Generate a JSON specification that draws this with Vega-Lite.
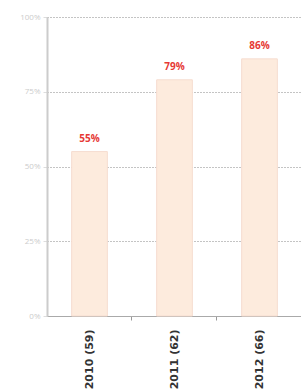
{
  "$schema": "https://vega.github.io/schema/vega-lite/v6.json",
  "autosize": {"type": "none"},
  "width": 255,
  "height": 299,
  "padding": {"left": 47, "top": 17, "right": 0, "bottom": 74},
  "background": "white",
  "config": {"view": {"stroke": null}, "font": "Open Sans"},
  "data": {"values": [
    {"year": "2010 (59)", "pct": 0.55},
    {"year": "2011 (62)", "pct": 0.79},
    {"year": "2012 (66)", "pct": 0.86}
  ]},
  "encoding": {
    "x": {"field": "year", "type": "nominal", "sort": null,
      "scale": {"paddingInner": 0.58, "paddingOuter": 0.29},
      "axis": {"title": null, "labelAngle": -90, "labelAlign": "right", "labelBaseline": "middle",
        "labelFont": "DejaVu Sans", "labelFontWeight": "bold", "labelFontSize": 11, "labelColor": "#333333",
        "labelPadding": 9, "tickSize": 4, "tickColor": "#999999", "domainColor": "#aaaaaa",
        "bandPosition": 1.69, "labelOffset": 0, "grid": false}},
    "y": {"field": "pct", "type": "quantitative",
      "scale": {"domain": [0, 1], "nice": false},
      "axis": {"title": null, "format": ".0%", "values": [0, 0.25, 0.5, 0.75, 1],
        "labelFontSize": 8, "labelColor": "#cccccc", "labelPadding": 3,
        "tickSize": 4, "tickColor": "#dddddd", "domainColor": "#cccccc", "domainWidth": 2,
        "grid": true, "gridColor": "#888888", "gridDash": [1, 2], "gridWidth": 1}}
  },
  "layer": [
    {"mark": {"type": "bar", "fill": "#fdebdd", "stroke": "#f6ddd0", "strokeWidth": 1}},
    {"mark": {"type": "text", "color": "#e63a35", "fontWeight": "bold", "fontSize": 10, "baseline": "bottom", "dy": -8},
     "encoding": {"text": {"field": "pct", "type": "quantitative", "format": ".0%"}}}
  ]
}
